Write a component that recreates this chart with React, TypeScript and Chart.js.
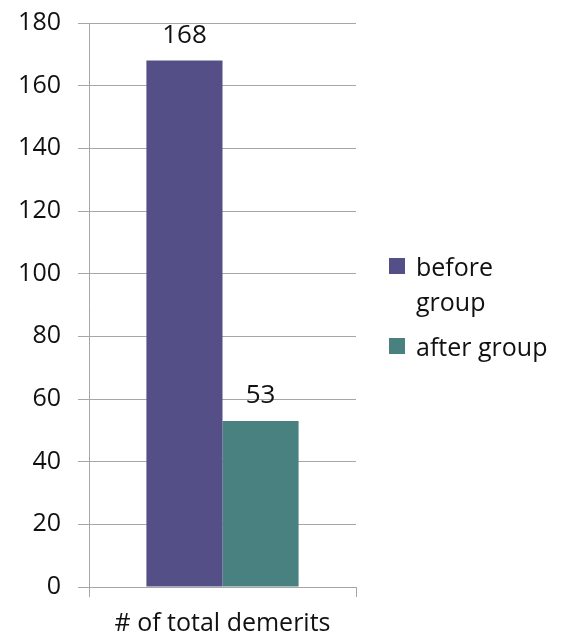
import React, { useEffect, useRef } from "react";
import { Chart, registerables } from "chart.js";

Chart.register(...registerables);

const categories = ["# of total demerits"];
const seriesNames = ["before group", "after group"];
const beforeValues = [168];
const afterValues = [53];
const seriesColors = ["#544f86", "#48817f"];
const FONT = "'Open Sans', Lato, sans-serif";

const valueLabels = {
  id: "valueLabels",
  afterDatasetsDraw(chart: any) {
    const ctx = chart.ctx;
    ctx.save();
    ctx.font = `26px ${FONT}`;
    ctx.fillStyle = "#111";
    ctx.textAlign = "center";
    ctx.textBaseline = "alphabetic";
    chart.data.datasets.forEach((ds: any, i: number) => {
      const meta = chart.getDatasetMeta(i);
      meta.data.forEach((el: any, j: number) => {
        ctx.fillText(String(ds.data[j]), el.x, el.y - 18);
      });
    });
    ctx.restore();
  },
};

export default function App() {
  const ref = useRef<HTMLCanvasElement | null>(null);
  useEffect(() => {
    if (!ref.current) return;
    const chart = new Chart(ref.current, {
      type: "bar",
      data: {
        labels: categories,
        datasets: [
          { label: seriesNames[0], data: beforeValues, backgroundColor: seriesColors[0] },
          { label: seriesNames[1], data: afterValues, backgroundColor: seriesColors[1] },
        ],
      },
      options: {
        responsive: true,
        maintainAspectRatio: false,
        animation: false,
        layout: { padding: { left: 0, right: 212, top: 23, bottom: 0 } },
        datasets: { bar: { categoryPercentage: 0.57, barPercentage: 1 } },
        plugins: { legend: { display: false }, tooltip: { enabled: false } },
        scales: {
          x: {
            offset: true,
            grid: { drawOnChartArea: false, drawTicks: true, tickLength: 10, color: "#a6a6a6", offset: true },
            border: { color: "#a6a6a6" },
            ticks: { font: { family: FONT, size: 25 }, color: "#111", padding: 12 },
            afterFit: (s: any) => { s.height = 55; s.paddingLeft = 0; s.paddingRight = 0; },
          },
          y: {
            min: 0,
            max: 180,
            ticks: { stepSize: 20, font: { family: FONT, size: 25 }, color: "#111", padding: 17 },
            grid: { color: "#a6a6a6", tickLength: 11 },
            border: { color: "#a6a6a6" },
            afterFit: (s: any) => { s.width = 89; s.paddingTop = 0; s.paddingBottom = 0; },
          },
        },
      } as any,
      plugins: [valueLabels],
    });
    return () => chart.destroy();
  }, []);

  return (
    <div style={{ position: "fixed", left: 0, top: 0, width: 568, height: 642, background: "#fff" }}>
      <canvas ref={ref} />
      <div style={{ position: "absolute", left: 389, top: 249, fontFamily: FONT, fontSize: 25, lineHeight: "35px", color: "#111" }}>
        {seriesNames.map((n, i) => (
          <div key={n} style={{ display: "flex", alignItems: "flex-start", marginBottom: 10 }}>
            <span style={{ display: "inline-block", width: 16, height: 16, background: seriesColors[i], marginTop: 9, marginRight: 11, flex: "none" }} />
            <span style={{ width: 150 }}>{n}</span>
          </div>
        ))}
      </div>
    </div>
  );
}
